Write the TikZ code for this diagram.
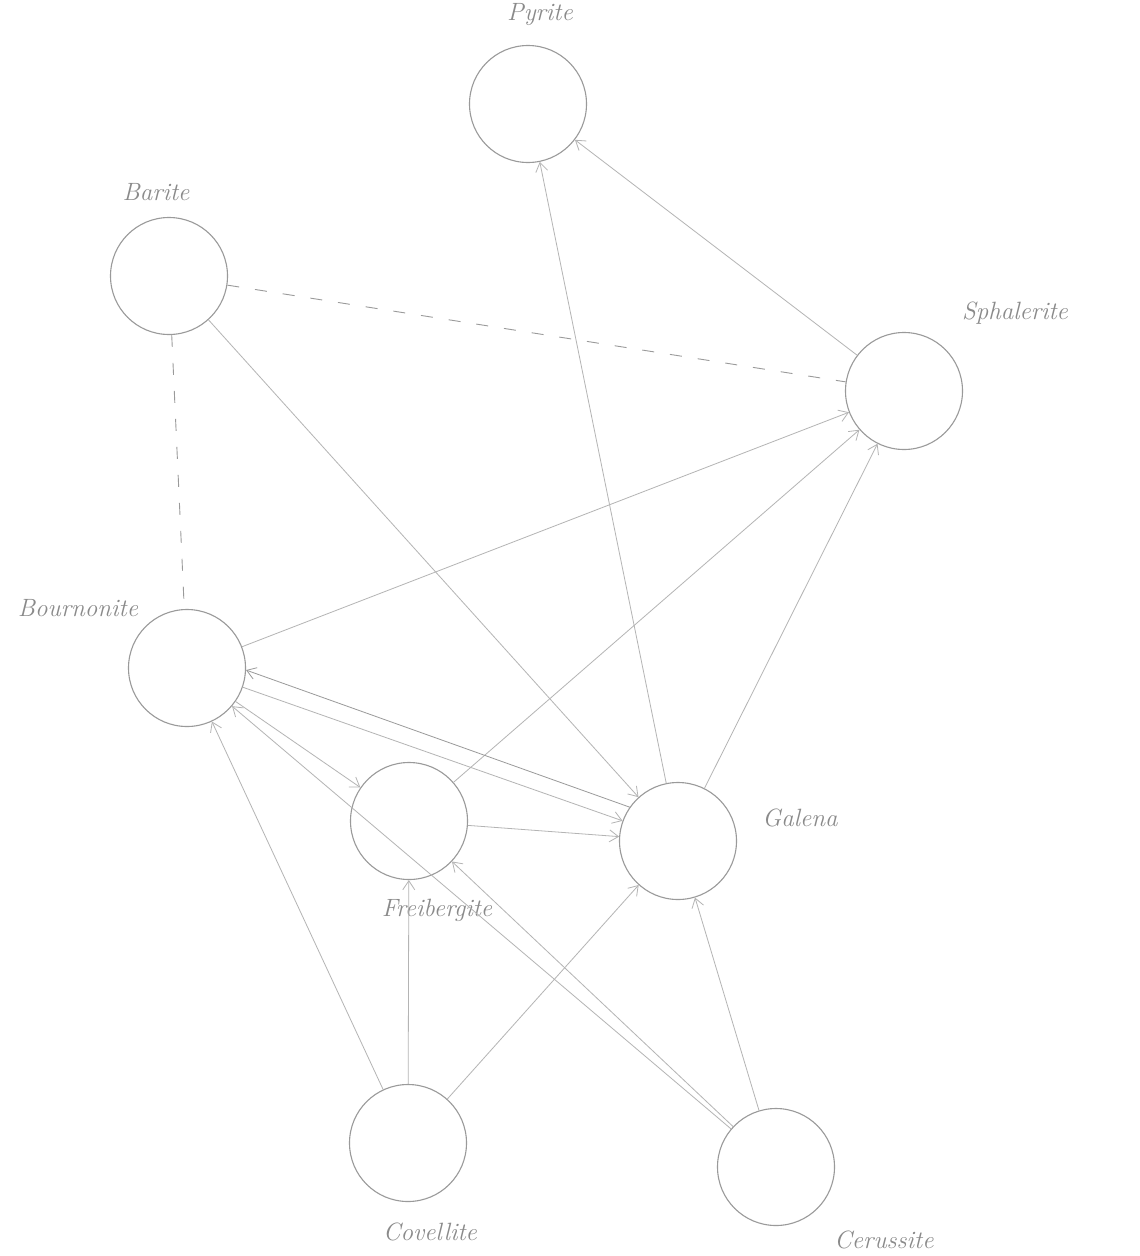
\documentclass[tikz,border=0pt]{standalone}
\usetikzlibrary{arrows.meta}
\definecolor{circ}{HTML}{9A9A9A}
\definecolor{edge}{HTML}{B4B4B4}
\definecolor{lbl}{HTML}{8A8A8A}
\begin{document}
\begin{tikzpicture}[x=1pt,y=-1pt,
  mineral/.style={circle,draw=circ,line width=1.1pt,minimum size=117pt,inner sep=0pt},
  lab/.style={text=lbl,font=\fontsize{25}{28}\selectfont\itshape},
  arr/.style={draw=edge,line width=0.8pt,-{Straight Barb[length=9pt,width=12pt]}},
  dsh/.style={draw=circ,line width=0.9pt,dash pattern=on 12pt off 16pt}]
\fill[white] (0,0) rectangle (1140,1256);
\useasboundingbox (0,0) rectangle (1140,1256);
\node[mineral] (pyr) at (528,104) {};
\node[mineral] (bar) at (169,276) {};
\node[mineral] (sph) at (904,391) {};
\node[mineral] (bou) at (187,668) {};
\node[mineral] (fre) at (409,821) {};
\node[mineral] (gal) at (678,841) {};
\node[mineral] (cov) at (408,1143) {};
\node[mineral] (cer) at (776,1167) {};
\node[lab] (lpyr) at (540,15) {Pyrite};
\node[lab] (lbar) at (156,192) {Barite};
\node[lab] (lsph) at (1015,313) {Sphalerite};
\node[lab] (lbou) at (78,608) {Bournonite};
\node[lab] (lfre) at (437,910) {Freibergite};
\node[lab] (lgal) at (800,818) {Galena};
\node[lab] (lcov) at (430,1232) {Covellite};
\node[lab] (lcer) at (884,1240) {Cerussite};
\draw[dsh] (bar) -- (sph);
\draw[dsh] (bar) -- (bou);
\draw[arr] (bar) -- (gal);
\draw[arr] (gal) -- (pyr);
\draw[arr] (sph) -- (pyr);
\draw[arr] (bou) -- (sph);
\draw[arr] (fre) -- (sph);
\draw[arr] (gal) -- (sph);
\draw[arr,draw=circ] (gal.145) -- (bou.-2);
\draw[arr] (bou.-19) -- (gal.160);
\draw[arr] (bou) -- (fre);
\draw[arr] (fre) -- (gal);
\draw[arr] (cov) -- (bou);
\draw[arr] (cov) -- (fre);
\draw[arr] (cov) -- (gal);
\draw[arr] (cer) -- (bou);
\draw[arr] (cer) -- (fre);
\draw[arr] (cer) -- (gal);
\end{tikzpicture}
\end{document}
